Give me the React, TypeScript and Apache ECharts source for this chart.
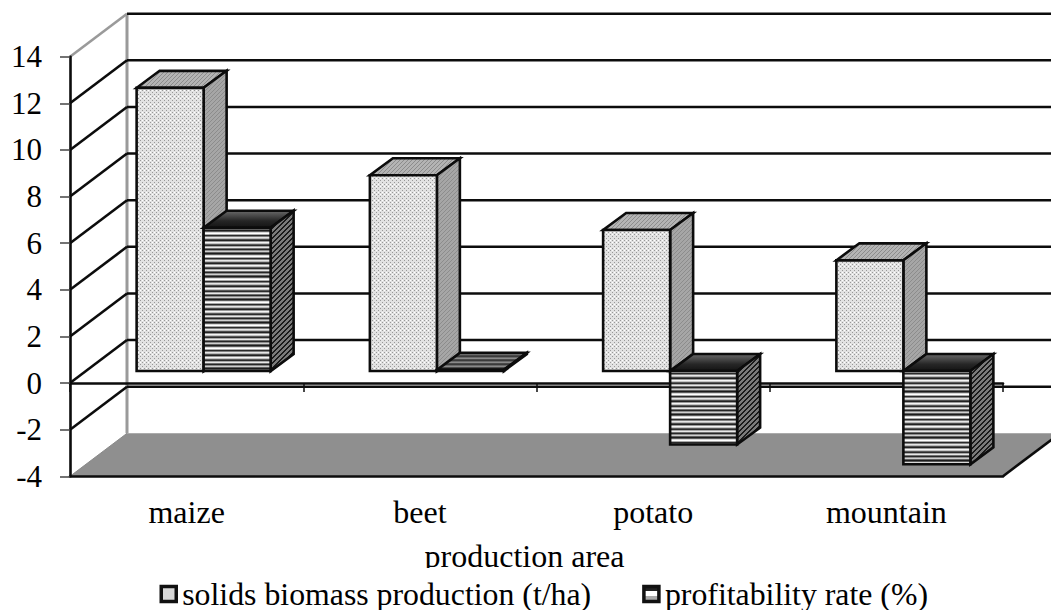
import React, { useEffect, useRef } from "react";
import * as echarts from "echarts";

const categories = ["maize", "beet", "potato", "mountain"];
const biomass = [12.15, 8.4, 6.05, 4.75];
const profitability = [6.15, 0.05, -3.15, -4.0];
const yTicks = [-4, -2, 0, 2, 4, 6, 8, 10, 12, 14];
const biomassName = "solids biomass production (t/ha)";
const profitName = "profitability rate (%)";

const FONT = "'Liberation Serif', 'Times New Roman', serif";
const FONT_SIZE = 32;
const INK = "#0c0c0c";
const LINE = 2.6;

// depth of the walls, and of the bars inside them
const WALL_DX = 57;
const WALL_DY = -43;
const PLANE_DX = 16;
const PLANE_DY = -12;
const BAR_DX = 23;
const BAR_DY = -17;
const BAR_W = 67;
const BAR_OFFSET = 1;

function tile(w: number, h: number, draw: (c: CanvasRenderingContext2D) => void) {
  const canvas = document.createElement("canvas");
  canvas.width = w;
  canvas.height = h;
  draw(canvas.getContext("2d") as CanvasRenderingContext2D);
  return { image: canvas, repeat: "repeat", imageWidth: w, imageHeight: h };
}

function rowTile(rows: string[]) {
  return tile(2, rows.length, (c) => {
    rows.forEach((r, i) => {
      c.fillStyle = r;
      c.fillRect(0, i, 2, 1);
    });
  });
}

function makeFills() {
  const dots = tile(8, 8, (c) => {
    c.fillStyle = "#e2e2e2";
    c.fillRect(0, 0, 8, 8);
    c.fillStyle = "#989898";
    [[0, 0], [4, 0], [2, 2], [6, 2], [0, 4], [4, 4], [2, 6], [6, 6]].forEach(([x, y]) =>
      c.fillRect(x, y, 1, 1)
    );
    c.fillStyle = "#ffffff";
    [[2, 0], [6, 0], [0, 2], [4, 2]].forEach(([x, y]) => c.fillRect(x, y, 1, 1));
  });
  const greyTop = tile(4, 4, (c) => {
    c.fillStyle = "#b4b4b4";
    c.fillRect(0, 0, 4, 4);
    c.fillStyle = "#8c8c8c";
    [[0, 3], [1, 2], [2, 1], [3, 0]].forEach(([x, y]) => c.fillRect(x, y, 1, 1));
  });
  const greySide = tile(4, 4, (c) => {
    c.fillStyle = "#a6a6a6";
    c.fillRect(0, 0, 4, 4);
    c.fillStyle = "#8c8c8c";
    [[0, 3], [1, 2], [2, 1], [3, 0]].forEach(([x, y]) => c.fillRect(x, y, 1, 1));
  });
  const stripes = rowTile([
    "#1c1c1c", "#5a5a5a", "#d8d8d8", "#ffffff", "#a8a8a8", "#2a2a2a",
    "#808080", "#e6e6e6", "#b8b8b8", "#4c4c4c", "#222222", "#989898",
    "#f4f4f4", "#c4c4c4", "#585858", "#2c2c2c", "#a8a8a8", "#e8e8e8", "#707070",
    "#262626", "#8c8c8c", "#cfcfcf", "#606060",
  ]);
  const hatch = tile(5, 5, (c) => {
    c.fillStyle = "#7a7a7a";
    c.fillRect(0, 0, 5, 5);
    c.fillStyle = "#1a1a1a";
    [[0, 4], [1, 3], [2, 2], [3, 1], [4, 0], [1, 4], [2, 3], [3, 2], [4, 1], [0, 0]].forEach(([x, y]) =>
      c.fillRect(x, y, 1, 1)
    );
  });
  const flat = rowTile(["#3a3a3a", "#6a6a6a", "#8a8a8a", "#4a4a4a"]);
  const darkTop = {
    type: "linear", x: 0, y: 1, x2: 0, y2: 0,
    colorStops: [
      { offset: 0, color: "#141414" },
      { offset: 0.4, color: "#262626" },
      { offset: 1, color: "#6a6a6a" },
    ],
  };
  return { dots, greyTop, greySide, stripes, hatch, flat, darkTop };
}

function polygon(points: number[][], fill: any, stroke: string | null, lineWidth = LINE) {
  return {
    type: "polygon",
    shape: { points },
    style: { fill, stroke: stroke || "none", lineWidth, lineJoin: "miter" },
  };
}

function line(points: number[][], stroke: string, lineWidth = LINE) {
  return {
    type: "polyline",
    shape: { points },
    style: { fill: "none", stroke, lineWidth },
  };
}

function barRenderer(seriesPos: number, front: any, top: any, side: any, flatTop: any) {
  return (_params: any, api: any) => {
    const cat = api.value(0);
    const val = api.value(1);
    const centre = api.coord([cat, 0])[0];
    const y0 = api.coord([cat, 0])[1] + PLANE_DY;
    const yv = api.coord([cat, val])[1] + PLANE_DY;
    const x1 = centre + PLANE_DX + BAR_OFFSET + (seriesPos === 0 ? -BAR_W : 0);
    const x2 = x1 + BAR_W;
    const upper = Math.min(y0, yv);
    const lower = Math.max(y0, yv);
    const thin = lower - upper < 3;
    return {
      type: "group",
      children: [
        polygon([[x1, upper], [x2, upper], [x2 + BAR_DX, upper + BAR_DY], [x1 + BAR_DX, upper + BAR_DY]], thin ? flatTop : top, INK),
        polygon([[x2, upper], [x2 + BAR_DX, upper + BAR_DY], [x2 + BAR_DX, lower + BAR_DY], [x2, lower]], side, INK),
        polygon([[x1, upper], [x2, upper], [x2, lower], [x1, lower]], front, INK),
      ],
    };
  };
}

function wallRenderer(params: any, api: any) {
  const v = api.value(0);
  const cs = params.coordSys;
  const y = api.coord([0, v])[1];
  const left = cs.x;
  const right = cs.x + cs.width;
  const backL = left + WALL_DX;
  const backR = right + WALL_DX;
  const backY = y + WALL_DY;
  if (v === yTicks[0]) {
    const topY = api.coord([0, yTicks[yTicks.length - 1]])[1] + WALL_DY;
    return {
      type: "group",
      children: [
        line([[backL, topY], [backL, backY]], "#9a9a9a", 3),
        polygon([[left, y], [backL, backY], [backR, backY], [right, y]], "#8f8f8f", null),
        line([[right, y], [backR, backY]], INK, LINE),
        line([[left, y], [backL, backY]], "#8a8a8a", 1),
      ],
    };
  }
  const isTop = v === yTicks[yTicks.length - 1];
  return {
    type: "group",
    children: [
      line([[left, y], [backL, backY]], isTop ? "#9a9a9a" : INK, LINE),
      line([[backL, backY], [backR, backY]], INK, LINE),
    ],
  };
}

export default function App() {
  const ref = useRef<HTMLDivElement>(null);
  useEffect(() => {
    const chart = echarts.init(ref.current as HTMLDivElement, undefined, { renderer: "svg" });
    const f = makeFills();
    const textStyle = { fontFamily: FONT, fontSize: FONT_SIZE, color: "#000" };
    const option: any = {
      animation: false,
      backgroundColor: "#fff",
      grid: { left: 70, right: 48, top: 56.7, bottom: 133.7 },
      xAxis: [
        {
          type: "category",
          data: categories,
          position: "bottom",
          z: 5,
          axisLine: { onZero: false, lineStyle: { color: INK, width: LINE } },
          axisTick: { show: false },
          axisLabel: { ...textStyle, margin: 20 },
          name: "production area",
          nameLocation: "middle",
          nameGap: 64,
          nameTextStyle: { ...textStyle, padding: [0, 24, 0, 0] },
        },
        {
          type: "category",
          data: categories,
          position: "bottom",
          z: 1.5,
          axisLine: { onZero: true, lineStyle: { color: INK, width: LINE } },
          axisTick: { show: true, length: 9, lineStyle: { color: INK, width: 1.5 } },
          axisLabel: { show: false },
        },
      ],
      yAxis: {
        type: "value",
        min: -4,
        max: 14,
        interval: 2,
        z: 5,
        axisLine: { show: true, onZero: false, lineStyle: { color: INK, width: LINE } },
        axisTick: { show: true, length: 10, lineStyle: { color: "#444", width: 1.5 } },
        axisLabel: { ...textStyle, fontSize: 31, margin: 28 },
        splitLine: { show: false },
      },
      legend: {
        left: 159.5,
        top: 568,
        padding: [9, 0, 0, 0],
        backgroundColor: "#fff",
        itemWidth: 15,
        itemHeight: 15,
        itemGap: 51,
        z: 10,
        textStyle: { ...textStyle, fontSize: 31.8, lineHeight: 30, padding: [0, 0, 4, 1] },
        data: [
          { name: biomassName, icon: "rect", itemStyle: { color: "#d8d8d8", borderColor: "#111", borderWidth: 3.5 } },
          {
            name: profitName,
            icon: "rect",
            itemStyle: {
              color: {
                type: "linear", x: 0, y: 0, x2: 0, y2: 1,
                colorStops: [
                  { offset: 0, color: "#222" }, { offset: 0.3, color: "#222" },
                  { offset: 0.3, color: "#fff" }, { offset: 0.65, color: "#fff" },
                  { offset: 0.65, color: "#aaa" }, { offset: 1, color: "#aaa" },
                ],
              },
              borderColor: "#111",
              borderWidth: 3.5,
            },
          },
        ],
      },
      series: [
        {
          type: "custom",
          name: "walls",
          z: 1,
          silent: true,
          renderItem: wallRenderer,
          encode: { x: 1, y: 0 },
          data: yTicks.map((t) => [t, 0]),
          dimensions: ["v", "c"],
        },
        {
          type: "custom",
          name: biomassName,
          z: 2,
          renderItem: barRenderer(0, f.dots, f.greyTop, f.greySide, f.greyTop),
          encode: { x: 0, y: 1 },
          data: categories.map((_c, i) => [i, biomass[i]]),
        },
        {
          type: "custom",
          name: profitName,
          z: 3,
          renderItem: barRenderer(1, f.stripes, f.darkTop, f.hatch, f.flat),
          encode: { x: 0, y: 1 },
          data: categories.map((_c, i) => [i, profitability[i]]),
        },
      ],
    };
    chart.setOption(option);
    return () => chart.dispose();
  }, []);
  return (
    <div
      ref={ref}
      style={{ position: "absolute", left: 0, top: 0, width: 1051, height: 610, overflow: "hidden" }}
    />
  );
}
